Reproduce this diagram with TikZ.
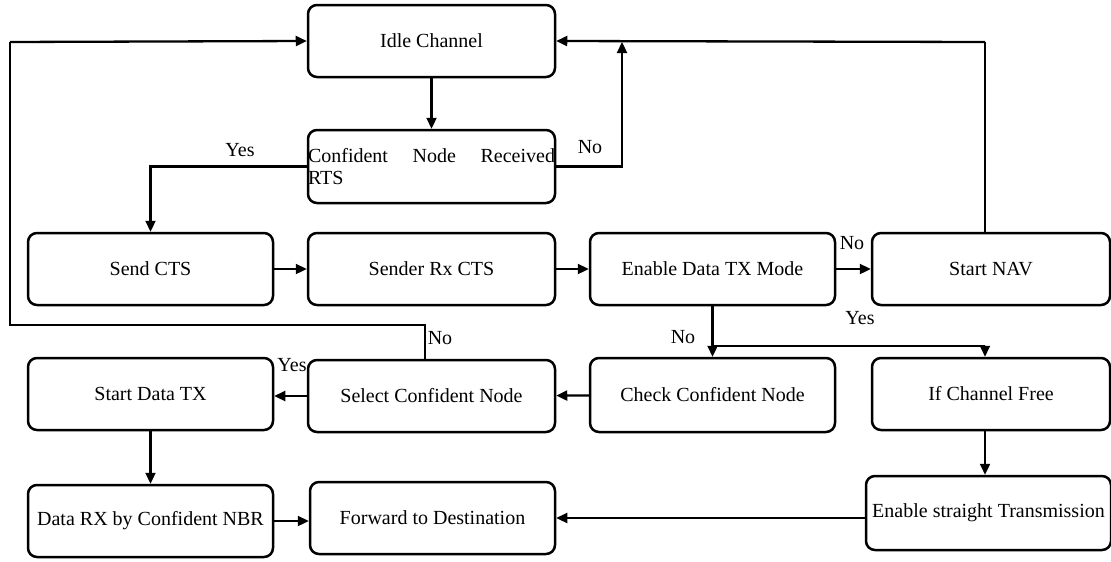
\documentclass[tikz,border=0pt]{standalone}
\usepackage{fontspec}
\setmainfont{Liberation Serif}
\usetikzlibrary{positioning,arrows.meta,calc}

\begin{document}
\begin{tikzpicture}[x=1pt, y=-1pt, font=\fontsize{20}{22}\selectfont,
  stepbox/.style={draw, line width=2.5pt, rounded corners=9pt, inner sep=0pt,
    minimum width=245pt, minimum height=72pt, align=center},
  arr/.style={-{Triangle[length=11pt,width=10pt]}, line width=2.3pt},
  thinln/.style={line width=1.2pt},
  lbl/.style={inner sep=1pt}]
\useasboundingbox (0,0) rectangle (1111,562);

% row 1 and 2
\node[stepbox, minimum width=247pt] (idle) at (431.5,41) {Idle Channel};
\node[stepbox, minimum width=247pt, minimum height=73pt, align=left] (recv) at (431.5,166.5)
  {\makebox[247pt][s]{Confident Node Received}\\RTS};

% row 3
\node[stepbox] (sendcts) at (150.5,269) {Send CTS};
\node[stepbox, minimum width=247pt] (senderrx) at (431.5,269) {Sender Rx CTS};
\node[stepbox] (enable) at (712.5,269) {Enable Data TX Mode};
\node[stepbox, minimum width=238pt] (nav) at (991,269) {Start NAV};

% row 4
\node[stepbox] (startdata) at (150.5,394) {Start Data TX};
\node[stepbox, minimum width=247pt] (select) at (431.5,396) {Select Confident Node};
\node[stepbox, minimum height=74pt] (check) at (712.5,395) {Check Confident Node};
\node[stepbox, minimum width=238pt] (chfree) at (991,394) {If Channel Free};

% row 5
\node[stepbox] (datarx) at (150.5,521) {Data RX by Confident NBR};
\node[stepbox] (fwd) at (432.5,518) {Forward to Destination};
\node[stepbox, minimum height=74pt] (straight) at (988.5,513) {Enable straight Transmission};

\coordinate (nojoin) at (622,42);
\coordinate (navtop) at (985,42);
\coordinate (lp1) at (425,325);
\coordinate (lp2) at (10,325);
\coordinate (lp3) at (10,42);
\coordinate (fork) at ($(enable.south)+(0,40)$);
\coordinate (freex) at (985,0);

\draw[arr] (idle) -- (recv);
\draw[arr] (recv.west) -| (sendcts.north);
\node[lbl] at (240,150) {Yes};
\draw[arr] (recv.east) -| (nojoin);
\node[lbl] at (590,147) {No};

\draw[thinln] (nav.north -| navtop) -- (navtop);
\draw[arr] (navtop) -- (idle.east);

\draw[thinln] (select.north -| lp1) -- (lp1) -- (lp2) -- (lp3);
\draw[arr] (lp3) -- (idle.west);
\node[lbl] at (440,338) {No};

\draw[arr] (sendcts) -- (senderrx);
\draw[arr] (senderrx) -- (enable);
\draw[arr] (enable) -- (nav);
\node[lbl] at (852,243) {No};

\draw[arr] (enable.south) -- (check.north);
\draw[arr, line width=1.8pt] (fork) -| (chfree.north -| freex);
\node[lbl] at (683,337) {No};
\node[lbl] at (860,318) {Yes};

\draw[arr] (check) -- (select);
\draw[arr] (select.west) -- (select.west -| startdata.east);
\node[lbl] at (292,365) {Yes};

\draw[arr] (startdata) -- (datarx);
\draw[arr] (datarx.east) -- (datarx.east -| fwd.west);
\draw[arr] (chfree.south -| freex) -- (straight.north -| freex);
\draw[arr] (straight.west |- fwd.east) -- (fwd.east);
\end{tikzpicture}
\end{document}
